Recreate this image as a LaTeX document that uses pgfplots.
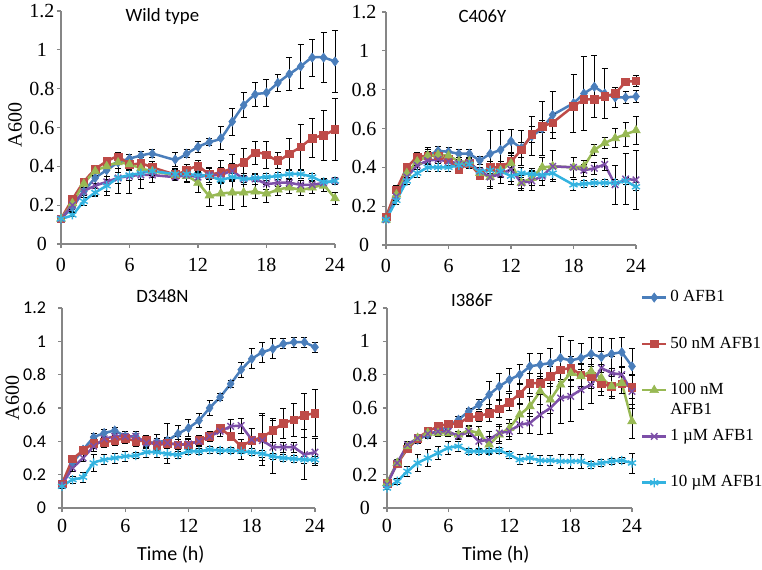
\documentclass[border=0pt]{standalone}
\usepackage{pgfplots}
\pgfplotsset{compat=1.18}
\usepackage{pgfplotstable}
\usepackage{fontspec}
\setmainfont{Liberation Serif}
\newfontfamily\calfont{Carlito}

\definecolor{c0}{HTML}{4A7EBB}
\definecolor{c1}{HTML}{BE4B48}
\definecolor{c2}{HTML}{98B954}
\definecolor{c3}{HTML}{7D4FA8}
\definecolor{c4}{HTML}{33B3E0}
\definecolor{axgray}{HTML}{868686}

% Wild type
\pgfplotstableread{
h  b     be    r     re    g     ge    p     pe    c     ce
0  0.13  0.01  0.13  0.01  0.13  0.01  0.13  0.01  0.13  0.01
1  0.19  0.02  0.23  0.02  0.21  0.02  0.20  0.02  0.15  0.01
2  0.27  0.02  0.32  0.02  0.31  0.02  0.27  0.03  0.22  0.02
3  0.34  0.03  0.385 0.02  0.375 0.02  0.30  0.05  0.265 0.02
4  0.38  0.03  0.425 0.02  0.40  0.02  0.32  0.07  0.30  0.03
5  0.42  0.03  0.45  0.02  0.42  0.03  0.34  0.08  0.34  0.03
6  0.44  0.02  0.41  0.03  0.41  0.03  0.35  0.09  0.355 0.03
7  0.455 0.02  0.415 0.03  0.39  0.03  0.355 0.07  0.365 0.03
8  0.465 0.02  0.395 0.03  0.375 0.03  0.355 0.04  0.375 0.02
10 0.435 0.035 0.36  0.03  0.355 0.03  0.345 0.02  0.36  0.02
11 0.465 0.02  0.38  0.03  0.35  0.03  0.355 0.04  0.36  0.02
12 0.50  0.03  0.40  0.03  0.315 0.05  0.345 0.03  0.355 0.02
13 0.525 0.02  0.36  0.03  0.25  0.055 0.355 0.04  0.35  0.02
14 0.545 0.06  0.37  0.06  0.26  0.06  0.355 0.04  0.33  0.02
15 0.63  0.07  0.39  0.07  0.265 0.085 0.375 0.04  0.345 0.02
16 0.715 0.065 0.42  0.07  0.265 0.07  0.335 0.03  0.335 0.02
17 0.77  0.06  0.47  0.06  0.27  0.035 0.335 0.03  0.34  0.02
18 0.78  0.07  0.46  0.07  0.26  0.045 0.31  0.03  0.345 0.02
19 0.83  0.045 0.43  0.04  0.28  0.03  0.315 0.02  0.35  0.02
20 0.875 0.085 0.465 0.08  0.29  0.03  0.315 0.02  0.36  0.02
21 0.915 0.115 0.50  0.115 0.28  0.03  0.305 0.02  0.36  0.02
22 0.96  0.095 0.545 0.10  0.29  0.03  0.305 0.02  0.345 0.02
23 0.96  0.13  0.56  0.13  0.30  0.03  0.315 0.02  0.32  0.02
24 0.94  0.16  0.59  0.16  0.235 0.03  0.325 0.02  0.325 0.02
}\tl

% C406Y
\pgfplotstableread{
h  b     be    r     re    g     ge    p     pe    c     ce
0  0.14  0.01  0.145 0.01  0.13  0.01  0.13  0.01  0.13  0.01
1  0.27  0.02  0.285 0.02  0.26  0.02  0.25  0.02  0.23  0.02
2  0.37  0.02  0.40  0.02  0.37  0.02  0.35  0.02  0.33  0.02
3  0.43  0.02  0.455 0.02  0.43  0.02  0.41  0.02  0.37  0.02
4  0.46  0.03  0.46  0.04  0.46  0.02  0.435 0.02  0.40  0.02
5  0.485 0.02  0.46  0.03  0.465 0.02  0.44  0.02  0.40  0.02
6  0.48  0.02  0.44  0.02  0.46  0.02  0.43  0.02  0.40  0.02
7  0.47  0.02  0.39  0.02  0.43  0.02  0.42  0.02  0.41  0.02
8  0.47  0.02  0.42  0.02  0.43  0.02  0.425 0.02  0.415 0.02
9  0.435 0.02  0.36  0.02  0.37  0.02  0.38  0.02  0.38  0.02
10 0.47  0.12  0.40  0.03  0.35  0.05  0.35  0.06  0.385 0.03
11 0.49  0.10  0.40  0.03  0.385 0.03  0.365 0.05  0.38  0.03
12 0.535 0.06  0.43  0.03  0.42  0.03  0.39  0.08  0.355 0.03
13 0.50  0.09  0.49  0.04  0.32  0.03  0.32  0.04  0.37  0.03
14 0.56  0.10  0.57  0.04  0.345 0.04  0.33  0.05  0.365 0.03
15 0.60  0.14  0.61  0.03  0.40  0.05  0.355 0.05  0.36  0.03
16 0.67  0.12  0.63  0.05  0.405 0.08  0.405 0.08  0.37  0.03
18 0.73  0.15  0.715 0.02  0.40  0.05  0.40  0.05  0.31  0.03
19 0.78  0.19  0.75  0.02  0.405 0.03  0.385 0.03  0.315 0.02
20 0.815 0.16  0.75  0.02  0.49  0.03  0.395 0.03  0.32  0.02
21 0.78  0.13  0.765 0.02  0.525 0.03  0.415 0.03  0.32  0.02
22 0.76  0.05  0.78  0.02  0.55  0.05  0.31  0.10  0.32  0.02
23 0.76  0.03  0.84  0.02  0.57  0.06  0.34  0.13  0.33  0.02
24 0.765 0.03  0.845 0.03  0.59  0.07  0.335 0.15  0.30  0.02
}\tr

% D348N
\pgfplotstableread{
h  b     be    r     re    p     pe    c     ce
0  0.145 0.01  0.145 0.01  0.14  0.01  0.13  0.01
1  0.27  0.02  0.295 0.02  0.24  0.02  0.17  0.02
2  0.35  0.02  0.345 0.02  0.30  0.02  0.185 0.03
3  0.425 0.02  0.39  0.03  0.37  0.03  0.27  0.05
4  0.45  0.02  0.395 0.03  0.415 0.03  0.29  0.03
5  0.465 0.02  0.405 0.03  0.43  0.03  0.30  0.03
6  0.43  0.02  0.42  0.03  0.43  0.03  0.31  0.03
7  0.43  0.02  0.40  0.03  0.43  0.03  0.315 0.02
8  0.39  0.02  0.405 0.03  0.39  0.03  0.335 0.03
9  0.395 0.02  0.375 0.03  0.39  0.05  0.335 0.03
10 0.405 0.02  0.39  0.03  0.39  0.12  0.325 0.03
11 0.445 0.05  0.38  0.03  0.38  0.05  0.32  0.02
12 0.48  0.05  0.38  0.03  0.385 0.03  0.34  0.02
13 0.525 0.04  0.405 0.03  0.40  0.03  0.34  0.02
14 0.60  0.045 0.43  0.03  0.43  0.03  0.35  0.02
15 0.665 0.02  0.48  0.02  0.46  0.03  0.345 0.02
16 0.745 0.02  0.43  0.02  0.49  0.04  0.345 0.02
17 0.83  0.045 0.37  0.04  0.495 0.045 0.34  0.05
18 0.895 0.06  0.405 0.07  0.41  0.07  0.335 0.02
19 0.935 0.06  0.425 0.14  0.405 0.15  0.325 0.02
20 0.955 0.06  0.465 0.07  0.365 0.16  0.31  0.02
21 0.985 0.03  0.51  0.09  0.365 0.03  0.30  0.02
22 0.995 0.03  0.53  0.10  0.365 0.03  0.295 0.02
23 0.995 0.03  0.555 0.13  0.32  0.15  0.29  0.02
24 0.965 0.03  0.57  0.14  0.335 0.08  0.29  0.02
}\bl

% I386F
\pgfplotstableread{
h  b     be    r     re    g     ge    p     pe    c     ce
0  0.15  0.01  0.15  0.01  0.15  0.01  0.14  0.01  0.12  0.01
1  0.27  0.02  0.265 0.02  0.27  0.02  0.27  0.02  0.16  0.02
2  0.36  0.02  0.355 0.02  0.37  0.02  0.38  0.02  0.22  0.03
3  0.41  0.02  0.42  0.02  0.42  0.02  0.42  0.02  0.27  0.05
4  0.44  0.02  0.46  0.02  0.45  0.02  0.445 0.02  0.30  0.05
5  0.46  0.02  0.49  0.02  0.45  0.02  0.46  0.02  0.33  0.04
6  0.49  0.02  0.505 0.02  0.45  0.02  0.46  0.02  0.36  0.04
7  0.53  0.02  0.505 0.02  0.44  0.02  0.43  0.02  0.37  0.03
8  0.58  0.02  0.545 0.02  0.465 0.03  0.46  0.03  0.34  0.02
9  0.62  0.03  0.55  0.03  0.45  0.04  0.40  0.05  0.34  0.02
10 0.68  0.08  0.57  0.05  0.38  0.05  0.41  0.05  0.34  0.02
11 0.73  0.08  0.595 0.05  0.44  0.05  0.45  0.05  0.345 0.02
12 0.77  0.07  0.635 0.05  0.48  0.05  0.46  0.05  0.32  0.02
13 0.80  0.06  0.685 0.06  0.56  0.06  0.50  0.05  0.29  0.03
14 0.85  0.08  0.75  0.06  0.61  0.06  0.51  0.06  0.30  0.03
15 0.86  0.07  0.75  0.06  0.70  0.08  0.56  0.12  0.285 0.03
16 0.87  0.09  0.79  0.06  0.65  0.08  0.60  0.15  0.285 0.03
17 0.90  0.13  0.83  0.07  0.74  0.08  0.66  0.15  0.28  0.04
18 0.885 0.12  0.84  0.07  0.81  0.08  0.67  0.15  0.28  0.04
19 0.90  0.09  0.80  0.07  0.79  0.07  0.71  0.12  0.28  0.04
20 0.925 0.10  0.79  0.07  0.82  0.08  0.74  0.11  0.26  0.02
21 0.905 0.12  0.745 0.07  0.78  0.08  0.84  0.10  0.27  0.02
22 0.925 0.09  0.73  0.07  0.73  0.06  0.81  0.10  0.28  0.02
23 0.935 0.09  0.745 0.06  0.75  0.06  0.80  0.05  0.285 0.02
24 0.85  0.11  0.725 0.07  0.52  0.10  0.70  0.10  0.27  0.06
}\br

\pgfplotsset{
  panel/.style={
    scale only axis,
    xmin=0, xmax=24, ymin=0, ymax=1.2,
    axis lines=left,
    axis line style={-, draw=axgray, line width=0.6pt},
    tick align=outside,
    major tick length=2pt,
    tick style={axgray, line width=0.6pt},
    xtick={0,6,12,18,24},
    xticklabels={0,6,12,18,24},
    ytick={0,0.2,0.4,0.6,0.8,1,1.2},
    yticklabels={0,0.2,0.4,0.6,0.8,1,1.2},
    ticklabel style={font=\fontsize{10}{12}\selectfont},
    clip=false,
    error bars/error bar style={black, line width=0.45pt, solid},
    error bars/error mark=-,
    error bars/error mark options={black, rotate=90, mark size=1.5pt, line width=0.45pt, solid},
    legend image code/.code={\draw[mark repeat=2,mark phase=2,##1] plot coordinates {(0pt,0pt) (6pt,0pt) (12pt,0pt)};},
  },
  s0/.style={color=c0, line width=1.25pt, mark=diamond*, mark size=2.3pt, mark options={fill=c0, line width=0.3pt, solid}},
  s1/.style={color=c1, line width=1.25pt, mark=square*, mark size=1.9pt, mark options={fill=c1, line width=0.3pt, solid}},
  s2/.style={color=c2, line width=1.25pt, mark=triangle*, mark size=2.5pt, mark options={fill=c2, line width=0.3pt, solid}},
  s3/.style={color=c3, line width=1.25pt, mark=x, mark size=2.3pt, mark options={line width=0.7pt, solid}},
  s4/.style={color=c4, line width=1.25pt, mark=asterisk, mark size=2.3pt, mark options={line width=0.7pt, solid}},
  ebar/.style={error bars/.cd, y dir=both, y explicit},
}

\begin{document}
\begin{tikzpicture}
\path[use as bounding box] (0pt,0pt) rectangle (381pt,284.5pt);

% ---------- Wild type ----------
\begin{axis}[panel, at={(30.5pt,162.5pt)}, anchor=south west,
  width=137pt, height=116.5pt,
  yticklabel style={anchor=center, xshift=-7.5pt},
  xticklabel style={yshift=-1.5pt},
  title={Wild type},
  title style={at={(axis description cs:0.37,0.923)}, anchor=center, font=\calfont\fontsize{9.4}{11}\selectfont},
  ylabel={A600},
  ylabel style={at={(axis description cs:-0.168,0.51)}, anchor=center, font=\fontsize{10}{12}\selectfont},
]
\addplot[s0, smooth, tension=0.4, ebar] table[x=h, y=b, y error=be] {\tl};
\addplot[s1, smooth, tension=0.4, ebar] table[x=h, y=r, y error=re] {\tl};
\addplot[s2, smooth, tension=0.4, ebar] table[x=h, y=g, y error=ge] {\tl};
\addplot[s3, smooth, tension=0.4, ebar] table[x=h, y=p, y error=pe] {\tl};
\addplot[s4, smooth, tension=0.4, ebar] table[x=h, y=c, y error=ce] {\tl};
\end{axis}

% ---------- C406Y ----------
\begin{axis}[panel, at={(193pt,162pt)}, anchor=south west,
  width=125pt, height=116.5pt,
  yticklabel style={anchor=center, xshift=-9pt},
  xticklabel style={yshift=-1.5pt},
  title={C406Y},
  title style={at={(axis description cs:0.386,0.93)}, anchor=center, font=\calfont\fontsize{9.4}{11}\selectfont},
]
\addplot[s0, ebar] table[x=h, y=b, y error=be] {\tr};
\addplot[s1, ebar] table[x=h, y=r, y error=re] {\tr};
\addplot[s2, ebar] table[x=h, y=g, y error=ge] {\tr};
\addplot[s3, ebar] table[x=h, y=p, y error=pe] {\tr};
\addplot[s4, ebar] table[x=h, y=c, y error=ce] {\tr};
\end{axis}

% ---------- D348N ----------
\begin{axis}[panel, at={(31pt,30.5pt)}, anchor=south west,
  width=126.5pt, height=100pt,
  yticklabel style={font=\calfont\fontsize{9}{11}\selectfont, xshift=-2.5pt},
  title={D348N},
  title style={at={(axis description cs:0.397,1.0)}, anchor=center, font=\calfont\fontsize{9.4}{11}\selectfont},
  ylabel={A600},
  ylabel style={at={(axis description cs:-0.196,0.55)}, anchor=center, font=\fontsize{10}{12}\selectfont},
  xlabel={Time (h)},
  xlabel style={at={(axis description cs:0.43,-0.235)}, anchor=center, font=\calfont\fontsize{10}{12}\selectfont},
]
\addplot[s0, ebar] table[x=h, y=b, y error=be] {\bl};
\addplot[s1, ebar] table[x=h, y=r, y error=re] {\bl};
\addplot[s3, ebar] table[x=h, y=p, y error=pe] {\bl};
\addplot[s4, smooth, tension=0.3, ebar] table[x=h, y=c, y error=ce] {\bl};
\end{axis}

% ---------- I386F ----------
\begin{axis}[panel, at={(193.5pt,30.5pt)}, anchor=south west,
  width=122.5pt, height=100pt,
  yticklabel style={anchor=center, xshift=-9pt},
  title={I386F},
  title style={at={(axis description cs:0.347,0.98)}, anchor=center, font=\calfont\fontsize{9.4}{11}\selectfont},
  xlabel={Time (h)},
  xlabel style={at={(axis description cs:0.444,-0.235)}, anchor=center, font=\calfont\fontsize{10}{12}\selectfont},
  legend style={at={(axis description cs:1.035,1.105)}, anchor=north west, draw=none, fill=none,
    font=\fontsize{8.5}{10}\selectfont, row sep=13pt, inner sep=0pt,
    nodes={inner sep=1.5pt}},
  legend cell align=left,
]
\addplot[s0, ebar] table[x=h, y=b, y error=be] {\br};
\addlegendentry{0 AFB1}
\addplot[s1, ebar] table[x=h, y=r, y error=re] {\br};
\addlegendentry{50 nM AFB1}
\addplot[s2, ebar] table[x=h, y=g, y error=ge] {\br};
\addlegendentry{\raisebox{0pt}[\height][0pt]{\vtop{\hbox{100 nM}\hbox{AFB1}}}}
\addplot[s3, ebar] table[x=h, y=p, y error=pe] {\br};
\addlegendentry{1 µM AFB1}
\addplot[s4, smooth, tension=0.3, ebar] table[x=h, y=c, y error=ce] {\br};
\addlegendentry{10 µM AFB1}
\end{axis}
\end{tikzpicture}
\end{document}
